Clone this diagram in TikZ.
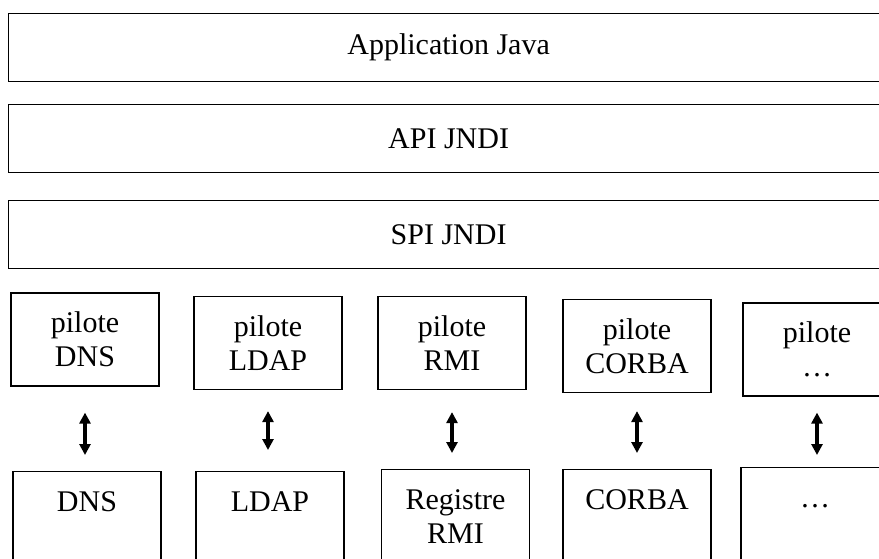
\documentclass[tikz,border=0pt]{standalone}
\usepackage{fontspec}
\setmainfont{Liberation Serif}
\usetikzlibrary{arrows.meta}

\begin{document}
\begin{tikzpicture}[x=1pt, y=-1pt,
  font=\fontsize{30}{34}\selectfont,
  layer/.style={draw, line width=1.2pt, minimum width=880pt, minimum height=68pt, anchor=west, inner sep=0pt},
  driver/.style={draw, line width=1.2pt, minimum width=148pt, minimum height=93pt, align=center, inner sep=0pt},
  store/.style={draw, line width=1.2pt, minimum width=148pt, anchor=north, align=center, text depth=80pt, inner ysep=20pt, inner xsep=0pt},
  link/.style={{Triangle[length=11pt,width=11pt]}-{Triangle[length=11pt,width=11pt]}, line width=3.5pt}
]
\path[use as bounding box, fill=white] (0,0) rectangle (879,559);
\clip (0,0) rectangle (879,559);

\node[layer] (app) at (8,47.5) {Application Java};
\node[layer] (api) at (8,138.5) {API JNDI};
\node[layer] (spi) at (8,234.5) {SPI JNDI};

\node[driver] (pdns) at (85,339.5) {pilote\\DNS};
\node[driver] (pldap) at (268,343) {pilote\\LDAP};
\node[driver] (prmi) at (452,343) {pilote\\RMI};
\node[driver] (pcorba) at (637,346) {pilote\\CORBA};
\node[driver] (pdots) at (817,349.5) {pilote\\\ldots};

\node[store] (dns) at (87,471) {DNS};
\node[store] (ldap) at (270,471) {LDAP};
\node[store] (rmi) at (455.5,469) {Registre\\RMI};
\node[store] (corba) at (637,469) {CORBA};
\node[store] (dots) at (815,467) {\vphantom{D}\ldots};

\foreach \drv/\srv/\gapa/\gapb in {pdns/dns/26/16, pldap/ldap/21/21, prmi/rmi/22/16, pcorba/corba/18/16, pdots/dots/16/12}
  \draw[link, shorten <=\gapa pt, shorten >=\gapb pt] (\drv.south) -- (\drv.south |- \srv.north);
\end{tikzpicture}
\end{document}
